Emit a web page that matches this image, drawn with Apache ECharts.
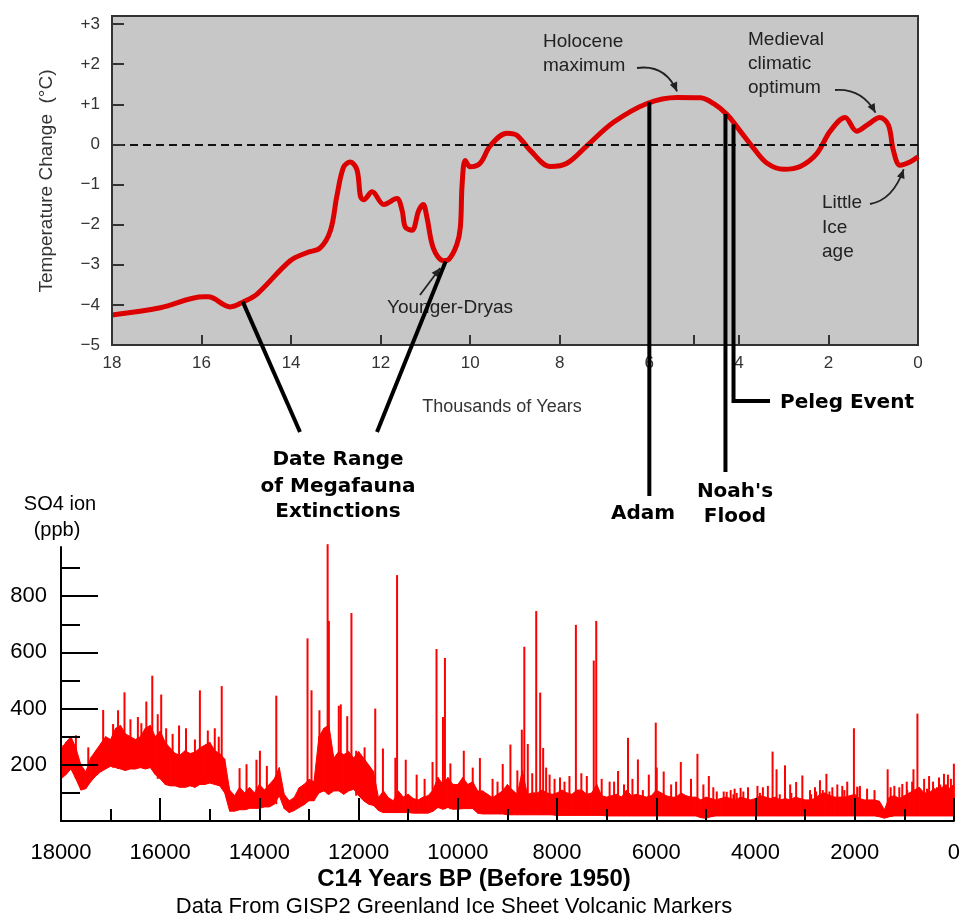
<!DOCTYPE html>
<html>
<head>
<meta charset="utf-8">
<style>
html,body{margin:0;padding:0;background:#fff;}
#chart{width:963px;height:920px;}
</style>
<script src="https://cdn.jsdelivr.net/npm/echarts@6/dist/echarts.min.js"></script>
</head>
<body>
<div id="chart"></div>
<script>
// ---------- Top panel: temperature change (thousands of years BP) ----------
const tempYears = [18.0, 16.92, 15.95, 15.85, 15.36, 15.06, 14.76, 14.02, 13.65, 13.35, 13.12, 12.98, 12.83, 12.68, 12.53, 12.45, 12.38, 12.19, 11.93, 11.64, 11.52, 11.45, 11.30, 11.15, 11.05, 10.97, 10.82, 10.60, 10.48, 10.30, 10.22, 10.18, 10.11, 10.0, 9.78, 9.55, 9.18, 8.96, 8.66, 8.21, 7.84, 7.39, 6.80, 6.05, 5.38, 4.86, 4.57, 4.27, 3.97, 3.67, 3.37, 3.0, 2.63, 2.26, 1.96, 1.63, 1.37, 1.14, 0.85, 0.66, 0.55, 0.40, 0.18, 0.0];
const tempValues = [-4.25, -4.07, -3.8, -3.8, -4.05, -3.92, -3.73, -2.9, -2.7, -2.58, -2.14, -1.3, -0.57, -0.44, -0.63, -1.3, -1.38, -1.18, -1.5, -1.35, -1.65, -2.06, -2.14, -1.65, -1.5, -1.8, -2.6, -2.9, -2.87, -2.5, -2.06, -0.98, -0.4, -0.56, -0.47, -0.03, 0.28, 0.23, -0.15, -0.55, -0.47, -0.03, 0.55, 1.02, 1.17, 1.16, 1.02, 0.75, 0.33, -0.1, -0.47, -0.62, -0.55, -0.23, 0.33, 0.67, 0.33, 0.48, 0.67, 0.48, -0.15, -0.52, -0.44, -0.31];
const topXTickLabels = [0, 2, 4, 6, 8, 10, 12, 14, 16, 18];
const topXTicks = [0, 2, 4, 5, 6, 8, 10, 12, 14, 16, 18];
const topYTicks = [-5, -4, -3, -2, -1, 0, 1, 2, 3];

// ---------- Bottom panel: SO4 ion (ppb), GISP2 ----------
const so4Start = 18000;   // first sample (years BP)
const so4Step = 100;      // sample spacing (years)
const so4Upper = [
  255, 280, 300, 260, 200, 175, 225, 250, 275, 300,
  290, 330, 340, 310, 300, 290, 300, 330, 340, 300,
  320, 280, 260, 240, 235, 250, 240, 245, 260, 270,
  280, 250, 240, 220, 110, 90, 120, 100, 120, 100,
  130, 110, 130, 150, 190, 95, 72, 83, 118, 130,
  148, 140, 300, 330, 341, 224, 247, 236, 247, 224,
  247, 224, 200, 176, 83, 107, 83, 72, 107, 85,
  95, 80, 75, 85, 90, 110, 155, 130, 155, 130,
  130, 155, 130, 140, 107, 107, 95, 83, 95, 107,
  130, 110, 95, 180, 95, 100, 100, 110, 100, 95,
  100, 110, 100, 95, 110, 110, 95, 100, 130, 90,
  85, 90, 95, 85, 110, 90, 95, 90, 85, 90,
  110, 100, 90, 85, 85, 100, 90, 85, 85, 75,
  85, 80, 75, 80, 85, 80, 75, 85, 80, 75,
  80, 90, 85, 80, 85, 75, 80, 75, 85, 80,
  75, 75, 80, 95, 100, 90, 85, 85, 85, 90,
  95, 80, 75, 75, 75, 70, 40, 85, 90, 80,
  90, 100, 110, 120, 100, 100, 115, 110, 125, 115,
  130
];
const so4Lower = [
  150, 165, 185, 150, 110, 115, 140, 160, 175, 185,
  195, 190, 185, 180, 185, 185, 190, 185, 190, 165,
  150, 130, 125, 125, 120, 120, 125, 120, 130, 130,
  135, 130, 125, 100, 35, 35, 40, 40, 45, 45,
  45, 50, 50, 60, 90, 44, 30, 37, 48, 58,
  72, 72, 100, 107, 95, 107, 107, 95, 107, 113,
  90, 72, 60, 55, 37, 30, 30, 30, 30, 30,
  30, 28, 28, 28, 28, 35, 48, 42, 48, 42,
  42, 44, 44, 44, 28, 25, 25, 25, 25, 25,
  22, 22, 22, 22, 22, 22, 22, 22, 22, 22,
  20, 20, 20, 20, 20, 20, 20, 20, 20, 20,
  18, 18, 18, 18, 18, 18, 18, 18, 18, 18,
  18, 18, 18, 18, 18, 18, 18, 18, 18, 12,
  10, 15, 18, 18, 18, 18, 18, 18, 18, 18,
  18, 18, 18, 18, 18, 18, 18, 18, 18, 18,
  18, 18, 18, 18, 18, 18, 18, 18, 18, 18,
  18, 18, 18, 18, 18, 15, 10, 15, 18, 18,
  18, 18, 18, 18, 18, 18, 18, 18, 18, 18,
  18
];
// volcanic spikes: [year BP, peak ppb]
const so4Spikes = [
  [17950, 270], [17700, 305], [17450, 262], [17150, 395], [16950, 345], [16850, 394], [16720, 458], [16600, 362],
  [16450, 370], [16380, 348], [16280, 425], [16160, 517], [16050, 380], [15980, 450], [15880, 330], [15750, 310],
  [15620, 340], [15480, 330], [15300, 290], [15200, 465], [15040, 322], [14900, 330], [14820, 300], [14760, 480],
  [14400, 188], [14260, 202], [14060, 218], [13990, 250], [13850, 196], [13660, 446],
  [13030, 650], [12950, 465], [12790, 394], [12625, 985], [12600, 712], [12400, 410], [12360, 415], [12230, 373],
  [12145, 740], [12050, 250], [11880, 262], [11665, 400], [11510, 258], [11260, 225], [11225, 875], [11050, 218],
  [10830, 165], [10670, 150], [10510, 210], [10430, 612], [10300, 370], [10260, 580], [10150, 205], [9880, 250],
  [9700, 190], [9555, 224], [9300, 150], [9200, 140], [9095, 203], [8940, 272], [8800, 180], [8710, 325],
  [8660, 620], [8590, 274], [8500, 170], [8420, 747], [8340, 457], [8280, 260], [8220, 190], [8150, 165],
  [8050, 150], [7940, 155], [7850, 140], [7750, 160], [7620, 698], [7510, 170], [7400, 160], [7260, 571],
  [7210, 712], [7100, 150], [6940, 140], [6850, 140], [6770, 178], [6650, 130], [6570, 296], [6480, 150],
  [6370, 219], [6270, 110], [6150, 165], [6010, 350], [5990, 190], [5850, 176], [5700, 130], [5600, 140],
  [5505, 210], [5300, 150], [5170, 239], [5050, 130], [4940, 160], [4850, 120], [4780, 105], [4640, 105],
  [4580, 104], [4500, 110], [4444, 95], [4420, 115], [4378, 100], [4300, 118], [4244, 105], [4150, 120],
  [3960, 125], [3910, 100], [3850, 120], [3750, 125], [3655, 247], [3575, 184], [3510, 95], [3405, 198],
  [3300, 130], [3277, 100], [3180, 139], [3055, 162], [2900, 110], [2877, 95], [2800, 120], [2777, 105],
  [2700, 145], [2643, 110], [2570, 168], [2509, 105], [2450, 120], [2350, 130], [2250, 125], [2208, 110],
  [2150, 140], [2015, 330], [1950, 122], [1896, 125], [1900, 120], [1750, 115], [1600, 110], [1335, 184],
  [1275, 120], [1200, 125], [1100, 120], [1040, 132], [950, 140], [941, 110], [841, 140], [815, 184],
  [735, 382], [600, 150], [541, 115], [500, 160], [420, 140], [340, 120], [300, 155], [274, 130],
  [200, 168], [160, 130], [120, 165], [60, 150], [40, 120], [0, 204]
];
const so4YTickLabels = [200, 400, 600, 800];
const so4YMinorTicks = [100, 300, 500, 700, 900];

// ---------- build series tables ----------
const tempData = tempYears.map((y, i) => [y, tempValues[i]]);
// band segments: [year_i, lower_i, upper_i, year_i+1, lower_i+1, upper_i+1]
const bandData = [];
for (let i = 0; i < so4Upper.length - 1; i++) {
  bandData.push([so4Start - i * so4Step, so4Lower[i], so4Upper[i],
                 so4Start - (i + 1) * so4Step, so4Lower[i + 1], so4Upper[i + 1]]);
}
const spikeData = so4Spikes.map(s => {
  const idx = Math.max(0, Math.min(so4Lower.length - 1, Math.round((so4Start - s[0]) / so4Step)));
  return [s[0], s[1], so4Lower[idx]];
});

const FONT = "'Liberation Sans', Arial, sans-serif";
const chart = echarts.init(document.getElementById('chart'), null, {renderer: 'canvas'});

const option = {
  animation: false,
  backgroundColor: '#ffffff',
  grid: [
    {left: 112, top: 16, width: 806, height: 329, show: true, backgroundColor: '#c7c7c7', borderColor: '#333', borderWidth: 2},
    {left: 61, top: 547, width: 899, height: 274}
  ],
  xAxis: [
    {
      gridIndex: 0, type: 'value', min: 0, max: 18, inverse: true, z: 10,
      axisLine: {show: true, onZero: false, lineStyle: {color: '#333', width: 2}},
      axisTick: {show: true, inside: true, length: 10, customValues: topXTicks, lineStyle: {color: '#333', width: 2}},
      axisLabel: {customValues: topXTickLabels, fontSize: 17, color: '#333', margin: 10, fontFamily: FONT},
      splitLine: {show: false}
    },
    {
      gridIndex: 1, type: 'value', min: 0, max: 18000, interval: 2000, inverse: true, z: 10,
      axisLine: {show: true, onZero: false, lineStyle: {color: '#000', width: 2}},
      axisTick: {show: true, inside: true, length: 23, lineStyle: {color: '#000', width: 2}},
      minorTick: {show: true, splitNumber: 2, length: 12, lineStyle: {color: '#000', width: 2}},
      axisLabel: {fontSize: 22, color: '#000', margin: 21, fontFamily: FONT, showMinLabel: true, showMaxLabel: true,
                  formatter: v => String(v)},
      splitLine: {show: false}
    }
  ],
  yAxis: [
    {
      gridIndex: 0, type: 'value', min: -5, max: 3.2, z: 10, position: 'left',
      axisLine: {show: true, onZero: false, lineStyle: {color: '#333', width: 2}},
      axisTick: {show: true, inside: true, length: 12, customValues: topYTicks, lineStyle: {color: '#333', width: 2}},
      axisLabel: {
        customValues: topYTicks, fontSize: 17, color: '#333', margin: 12, fontFamily: FONT,
        formatter: v => v > 0 ? '+' + v : (v < 0 ? '\u2212' + (-v) : '0')
      },
      splitLine: {show: false}
    },
    {
      gridIndex: 1, type: 'value', min: 0, max: 975, z: 10, position: 'left',
      axisLine: {show: true, onZero: false, lineStyle: {color: '#000', width: 2}},
      axisTick: {show: true, inside: true, length: 37, customValues: so4YTickLabels, lineStyle: {color: '#000', width: 2}},
      axisLabel: {customValues: so4YTickLabels, fontSize: 22, color: '#000', margin: 14, fontFamily: FONT},
      splitLine: {show: false}
    },
    {
      gridIndex: 1, type: 'value', min: 0, max: 975, position: 'left', z: 10,
      axisLine: {show: false, onZero: false},
      axisTick: {show: true, inside: true, length: 19, customValues: so4YMinorTicks, lineStyle: {color: '#000', width: 2}},
      axisLabel: {show: false},
      splitLine: {show: false}
    }
  ],
  series: [
    {
      name: 'Temperature', type: 'line', xAxisIndex: 0, yAxisIndex: 0,
      data: tempData, smooth: 0.35, showSymbol: false, silent: true, z: 3,
      lineStyle: {color: '#dd0000', width: 5},
      markLine: {
        silent: true, symbol: 'none', label: {show: false},
        lineStyle: {color: '#111', type: [8, 5], width: 2},
        data: [{yAxis: 0}]
      }
    },
    {
      name: 'SO4 band', type: 'custom', xAxisIndex: 1, yAxisIndex: 1, silent: true,
      data: bandData,
      encode: {x: [0, 3], y: [1, 2, 4, 5]},
      renderItem: (params, api) => {
        const a = api.coord([api.value(0), api.value(1)]);
        const b = api.coord([api.value(3), api.value(4)]);
        const c = api.coord([api.value(3), api.value(5)]);
        const d = api.coord([api.value(0), api.value(2)]);
        return {type: 'polygon', shape: {points: [a, b, c, d]},
                style: {fill: '#ff0000', stroke: '#ff0000', lineWidth: 1}};
      }
    },
    {
      name: 'spikes', type: 'custom', xAxisIndex: 1, yAxisIndex: 1, silent: true, clip: false,
      data: spikeData,
      encode: {x: 0, y: [1, 2]},
      renderItem: (params, api) => {
        const top = api.coord([api.value(0), api.value(1)]);
        const bot = api.coord([api.value(0), api.value(2)]);
        return {type: 'line', shape: {x1: top[0], y1: top[1], x2: bot[0], y2: bot[1]},
                style: {stroke: '#ff0000', lineWidth: 2}};
      }
    }
  ]
};
chart.setOption(option);

// ---------- annotations ----------
const P = d => chart.convertToPixel({gridIndex: 0}, d);
const Z = 100;
const BOLD = "bold 20px 'DejaVu Sans', sans-serif";
const ANN = "19px " + FONT;

function txt(text, x, y, font, align, color, extra) {
  return Object.assign({type: 'text', z: Z, x: x, y: y,
    style: {text: text, x: 0, y: 0, font: font, fill: color || '#000', align: align || 'left', verticalAlign: 'middle'}}, extra || {});
}
function seg(points, w, color) {
  return {type: 'polyline', z: Z, shape: {points: points}, style: {stroke: color || '#000', lineWidth: w, fill: null}};
}
function head(tip, from, color) {
  const dx = tip[0] - from[0], dy = tip[1] - from[1];
  const len = Math.hypot(dx, dy) || 1;
  const ux = dx / len, uy = dy / len, L = 9, W = 4;
  const bx = tip[0] - ux * L, by = tip[1] - uy * L;
  return {type: 'polygon', z: Z, shape: {points: [tip, [bx - uy * W, by + ux * W], [bx + uy * W, by - ux * W]]}, style: {fill: color}};
}
function curveArrow(start, ctrl, tip, color) {
  return [
    {type: 'bezierCurve', z: Z, shape: {x1: start[0], y1: start[1], cpx1: ctrl[0], cpy1: ctrl[1], x2: tip[0], y2: tip[1]},
     style: {stroke: color, lineWidth: 1.8, fill: null}},
    head(tip, ctrl, color)
  ];
}

const gfx = [];
gfx.push(txt('Temperature Change  (\u00B0C)', 47, 181, ANN, 'center', '#333', {rotation: Math.PI / 2}));
gfx.push(txt('Thousands of Years', 502, 407, "18px " + FONT, 'center', '#333'));

const dark = '#222';
gfx.push(txt('Holocene', 543, 42, ANN, 'left', dark));
gfx.push(txt('maximum', 543, 66, ANN, 'left', dark));
gfx.push(txt('Medieval', 748, 40, ANN, 'left', dark));
gfx.push(txt('climatic', 748, 64, ANN, 'left', dark));
gfx.push(txt('optimum', 748, 88, ANN, 'left', dark));
gfx.push(txt('Little', 822, 203, ANN, 'left', dark));
gfx.push(txt('Ice', 822, 228, ANN, 'left', dark));
gfx.push(txt('age', 822, 252, ANN, 'left', dark));
gfx.push(txt('Younger-Dryas', 387, 308, ANN, 'left', dark));

const tipHolo = P([5.38, 1.32]);
gfx.push(...curveArrow([637, 68], [665, 64], tipHolo, dark));
const tipMed = P([0.95, 0.79]);
gfx.push(...curveArrow([835, 90], [862, 88], tipMed, dark));
const tipLia = P([0.32, -0.62]);
gfx.push(...curveArrow([870, 204], [893, 200], tipLia, dark));
const tipYD = P([10.67, -3.08]);
gfx.push(seg([[420, 295], tipYD], 1.8, dark));
gfx.push(head(tipYD, [420, 295], dark));

const pMegaL = P([15.08, -3.92]);
const pMegaR = P([10.55, -2.92]);
gfx.push(seg([pMegaL, [300, 432]], 4));
gfx.push(seg([pMegaR, [377, 432]], 4));
const pAdam = P([6.0, 1.05]);
gfx.push(seg([pAdam, [pAdam[0], 496]], 4));
const pNoah = P([4.3, 0.76]);
gfx.push(seg([pNoah, [pNoah[0], 472]], 4));
const pPeleg = P([4.12, 0.5]);
gfx.push(seg([pPeleg, [pPeleg[0], 401], [770, 401]], 4));

gfx.push(txt('Date Range', 338, 460, BOLD, 'center'));
gfx.push(txt('of Megafauna', 338, 487, BOLD, 'center'));
gfx.push(txt('Extinctions', 338, 512, BOLD, 'center'));
gfx.push(txt('Adam', 643, 514, BOLD, 'center'));
gfx.push(txt("Noah's", 735, 492, BOLD, 'center'));
gfx.push(txt('Flood', 735, 517, BOLD, 'center'));
gfx.push(txt('Peleg Event', 780, 403, BOLD, 'left'));

gfx.push(txt('SO4 ion', 60, 504, "20px " + FONT, 'center', '#000'));
gfx.push(txt('(ppb)', 57, 530, "20px " + FONT, 'center', '#000'));
gfx.push(txt('C14 Years BP (Before 1950)', 474, 879, "bold 24px " + FONT, 'center', '#000'));
gfx.push(txt('Data From GISP2 Greenland Ice Sheet Volcanic Markers', 454, 907, "22px " + FONT, 'center', '#000'));

chart.setOption({graphic: {elements: gfx}});
</script>
</body>
</html>
